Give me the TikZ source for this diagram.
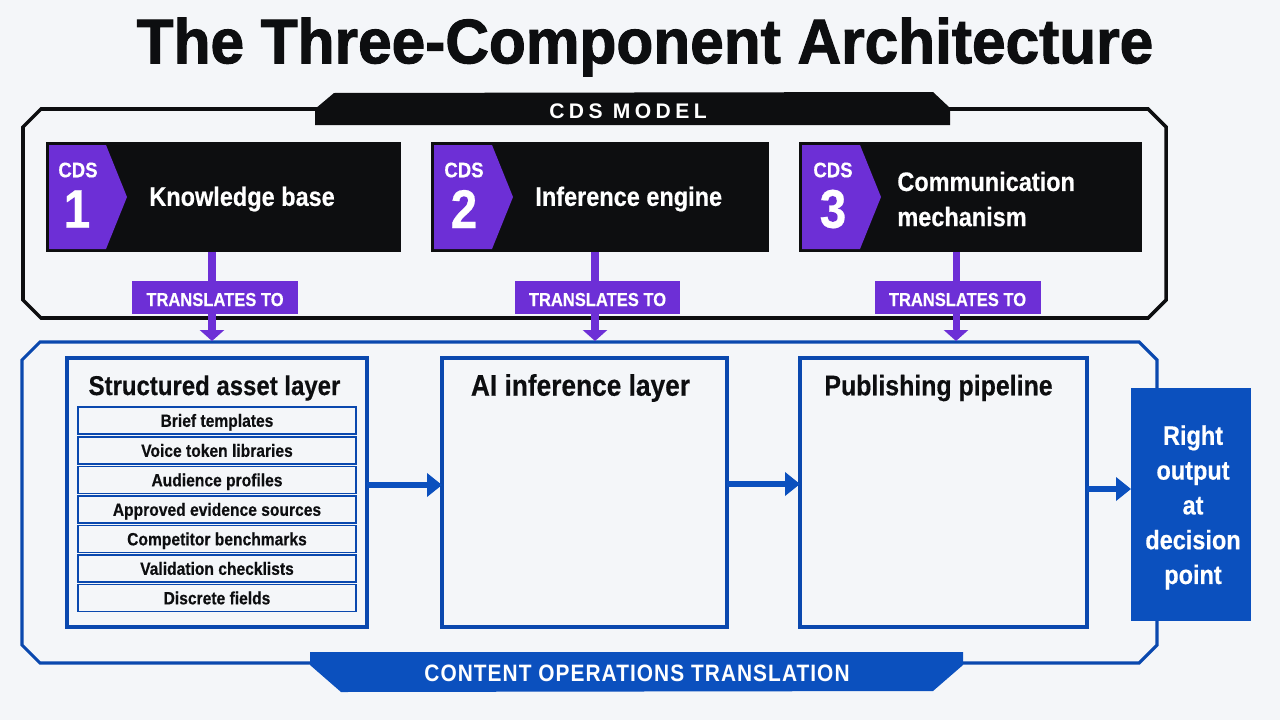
\documentclass[tikz,border=0pt]{standalone}
\usepackage{fontspec}
\setmainfont{Liberation Sans}
\newfontfamily\narrowfont[FakeStretch=0.88,FakeBold=0.4]{Liberation Sans}
\newfontfamily\titlefont[FakeStretch=0.96,FakeBold=1.6]{Liberation Sans}
\newfontfamily\widefont[LetterSpace=21]{Liberation Sans}
\newfontfamily\opsfont[FakeStretch=0.88,LetterSpace=4.4]{Liberation Sans}
\usetikzlibrary{arrows.meta}
\definecolor{paper}{HTML}{F4F6F9}
\definecolor{ink}{HTML}{0D0E10}
\definecolor{violet}{HTML}{6D2FD6}
\definecolor{cobalt}{HTML}{0B50BE}
\definecolor{edge}{HTML}{0A48AE}
\begin{document}
\begin{tikzpicture}[x=0.02cm, y=-0.02cm,
        card/.style  = {fill=ink, inner sep=0pt, outer sep=0pt, minimum height=2.2cm},
        tag/.style   = {fill=violet, text=white, inner sep=0pt, outer sep=0pt,
                        minimum width=3.32cm, minimum height=0.66cm,
                        text height=9.7pt, text depth=0pt,
                        font=\narrowfont\fontsize{10.7}{12}\selectfont\bfseries},
        layer/.style = {draw=edge, line width=1.8pt, fill=paper, inner sep=0pt, outer sep=0pt,
                        minimum height=5.38cm},
        row/.style   = {draw=edge, line width=0.8pt, inner sep=0pt, outer sep=0pt,
                        minimum width=5.56cm, minimum height=0.54cm,
                        text height=9.2pt, text depth=2pt, text=ink,
                        font=\narrowfont\fontsize{10.1}{12}\selectfont\bfseries},
        head/.style  = {text=ink},
        lbl/.style   = {text=white, align=left, anchor=west, inner sep=0pt,
                        font=\narrowfont\fontsize{15.2}{20}\selectfont\bfseries},
        cds/.style   = {text=white, font=\narrowfont\fontsize{12}{14}\selectfont\bfseries},
        num/.style   = {text=white, font=\narrowfont\fontsize{31}{33}\selectfont\bfseries},
        vio/.style   = {draw=violet, line width=4pt, -{Triangle[length=0.22cm,width=0.48cm]}},
        blu/.style   = {draw=cobalt, line width=3pt, -{Triangle[length=0.3cm,width=0.46cm]}}
                                ]
        % page
        \fill[paper] (0,0) rectangle (1280,720);
        \node[text=ink] (title) at (645,47) {\titlefont\fontsize{35.8}{40}\selectfont\bfseries The Three-Component Architecture};
        % frames
        \draw[ink, line width=2pt] (41,109) -- (1148,109) -- (1166,127) -- (1166,300)
            -- (1148,318) -- (41,318) -- (23,300) -- (23,127) -- cycle;
        \draw[edge, line width=1.8pt] (40,342) -- (1139,342) -- (1157,360) -- (1157,645)
            -- (1139,663) -- (40,663) -- (22,645) -- (22,360) -- cycle;
        % frame tabs
        \fill[ink] (315,125) -- (315,109) -- (334,93) -- (933,92) -- (950,108) -- (950,125) -- cycle;
        \node[text=white, font=\widefont\fontsize{12}{14}\selectfont\bfseries] (model) at (628,111) {CDS MODEL};
        \fill[cobalt] (310,652) -- (963,652) -- (963,665) -- (933,691) -- (341,692) -- (310,665) -- cycle;
        \node[text=white, font=\opsfont\fontsize{13.5}{15}\selectfont\bfseries] (ops) at (637,673) {CONTENT OPERATIONS TRANSLATION};
        % top cards
        \node[card, minimum width=7.1cm]  (base)   at (223.5,197) {};
        \node[card, minimum width=6.76cm] (engine) at (600,197) {};
        \node[card, minimum width=6.86cm] (mech)   at (970.5,197) {};
        \fill[violet] (49,145) -- (106,145) -- (127,197) -- (106,249) -- (49,249) -- cycle;
        \fill[violet] (434,145) -- (492,145) -- (513,197) -- (492,249) -- (434,249) -- cycle;
        \fill[violet] (802,145) -- (860,145) -- (881,197) -- (860,249) -- (802,249) -- cycle;
        \node[cds] (cdsa) at (78,170) {CDS};
        \node[num] (numa) at (77,209) {1};
        \node[cds] (cdsb) at (464,170) {CDS};
        \node[num] (numb) at (464,209) {2};
        \node[cds] (cdsc) at (833,170) {CDS};
        \node[num] (numc) at (833,209) {3};
        \node[lbl] (lbla) at (149,199) {Knowledge base};
        \node[lbl] (lblb) at (535,199) {Inference engine};
        \node[lbl] (lblc) at (897,199) {Communication\\mechanism};
        % lower layers
        \node[layer, minimum width=6cm]    (asset)   at (217,492.5) {};
        \node[layer, minimum width=5.7cm]  (infer)   at (584.5,492.5) {};
        \node[layer, minimum width=5.74cm] (publish) at (943.5,492.5) {};
        \node[head, font=\narrowfont\fontsize{15.5}{18}\selectfont\bfseries] (asseth) at (214.5,388) {Structured asset layer};
        \node[head, font=\narrowfont\fontsize{17}{18}\selectfont\bfseries] (inferh) at (580.5,388) {AI inference layer};
        \node[head, font=\narrowfont\fontsize{16.1}{18}\selectfont\bfseries] (publishh) at (938.5,388) {Publishing pipeline};
        \node[row] (r1) at (217,420.5) {Brief templates};
        \node[row] (r2) at (217,450.5) {Voice token libraries};
        \node[row] (r3) at (217,480) {Audience profiles};
        \node[row] (r4) at (217,509.5) {Approved evidence sources};
        \node[row] (r5) at (217,539) {Competitor benchmarks};
        \node[row] (r6) at (217,568.5) {Validation checklists};
        \node[row] (r7) at (217,598) {Discrete fields};
        % output
        \node[fill=cobalt, inner sep=0pt, outer sep=0pt, minimum width=2.4cm,
              minimum height=4.66cm] (out) at (1191,504.5) {};
        \node[text=white, align=center,
              font=\narrowfont\fontsize{15.2}{19.8}\selectfont\bfseries] (outtext) at (1193,505)
              {\strut Right\\output\\at\\decision\\point};
        % blue arrows
        \draw[blu] (asset.east |- 0,485) -- (infer.west |- 0,485);
        \draw[blu] (infer.east |- 0,484) -- (publish.west |- 0,484);
        \draw[blu] (publish.east |- 0,489) -- (out.west |- 0,489);
        % translate tags
        \node[tag] (taga) at (215,297.5) {TRANSLATES TO};
        \node[tag] (tagb) at (597.5,297.5) {TRANSLATES TO};
        \node[tag] (tagc) at (957.5,297.5) {TRANSLATES TO};
        \coordinate (enda) at (212,341);
        \coordinate (endb) at (595,341);
        \coordinate (endc) at (956,341);
        \draw[violet, line width=4pt] (enda |- base.south) -- (enda |- taga.north);
        \draw[violet, line width=4pt] (endb |- engine.south) -- (endb |- tagb.north);
        \draw[violet, line width=4pt] (endc |- mech.south) -- (endc |- tagc.north);
        \draw[vio] (enda |- taga.south) -- (enda);
        \draw[vio] (endb |- tagb.south) -- (endb);
        \draw[vio] (endc |- tagc.south) -- (endc);
    \end{tikzpicture}
\end{document}
